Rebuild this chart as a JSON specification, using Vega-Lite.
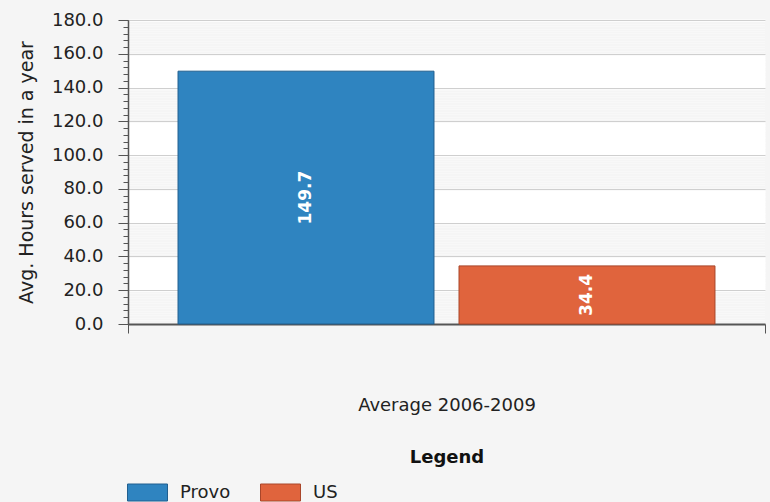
{
  "$schema": "https://vega.github.io/schema/vega-lite/v6.json",
  "width": 637,
  "height": 304,
  "autosize": {"type": "none"},
  "padding": {"left": 128, "top": 20, "right": 5, "bottom": 178},
  "background": "#f5f5f5",
  "config": {"view": {"fill": "#ffffff", "stroke": null}, "font": "DejaVu Sans"},
  "data": {"values": [
    {"period": "Average 2006-2009", "series": "Provo", "value": 149.7},
    {"period": "Average 2006-2009", "series": "US", "value": 34.4}
  ]},
  "encoding": {
    "x": {"field": "period", "type": "nominal", "scale": {"paddingInner": 0, "paddingOuter": 0},
      "axis": {"title": "Legend", "titleFontWeight": "bold", "titleFontSize": 18, "titleColor": "#111111",
        "labelFontSize": 18, "labelColor": "#222222", "labelAngle": 0, "labelPadding": 63,
        "tickSize": 9, "tickBand": "extent", "tickColor": "#555555", "domainColor": "#555555", "domainWidth": 2,
        "titlePadding": 34}},
    "xOffset": {"field": "series", "type": "nominal", "scale": {"paddingInner": 0.089, "paddingOuter": 0.178}}
  },
  "layer": [
    {
      "mark": {"type": "bar", "strokeWidth": 1},
      "encoding": {
        "y": {"field": "value", "type": "quantitative", "scale": {"domain": [0, 180]},
          "axis": {"orient": "left", "title": null, "labels": false, "domain": false,
            "values": [0,1,2,3,4,5,6,7,8,9,10,11,12,13,14,15,16,17,18,19,20,21,22,23,24,25,26,27,28,29,30,31,32,33,34,35,36,37,38,39,40,41,42,43,44,45,46,47,48,49,50,51,52,53,54,55,56,57,58,59,60,61,62,63,64,65,66,67,68,69,70,71,72,73,74,75,76,77,78,79,80,81,82,83,84,85,86,87,88,89,90,91,92,93,94,95,96,97,98,99,100,101,102,103,104,105,106,107,108,109,110,111,112,113,114,115,116,117,118,119,120,121,122,123,124,125,126,127,128,129,130,131,132,133,134,135,136,137,138,139,140,141,142,143,144,145,146,147,148,149,150,151,152,153,154,155,156,157,158,159,160,161,162,163,164,165,166,167,168,169,170,171,172,173,174,175,176,177,178,179,180],
            "tickSize": 5, "tickColor": "#555555",
            "tickOpacity": {"condition": {"test": "datum.value % 4 === 0", "value": 1}, "value": 0},
            "grid": true, "gridWidth": 1.8,
            "gridColor": {"condition": {"test": "floor(datum.value / 20) % 2 === 0 && datum.value < 180", "value": "#f5f5f5"}, "value": "#ffffff"}}},
        "color": {"field": "series", "type": "nominal", "scale": {"range": ["#2f84c0", "#e0643d"]},
          "legend": {"orient": "none", "legendX": -1, "legendY": 452, "direction": "horizontal", "title": null,
            "symbolType": "M-1,-0.425H1V0.425H-1Z", "symbolSize": 1600, "symbolStrokeWidth": 1, "symbolOpacity": 1,
            "labelFontSize": 18, "labelColor": "#222222", "labelOffset": 12, "columnPadding": 27}},
        "stroke": {"field": "series", "type": "nominal", "scale": {"range": ["#215f8f", "#a9462a"]}, "legend": null}
      }
    },
    {
      "mark": {"type": "text", "color": "#ffffff", "fontWeight": "bold", "fontSize": 17, "angle": 270, "align": "center", "baseline": "middle"},
      "encoding": {
        "y": {"field": "value", "type": "quantitative", "scale": {"domain": [0, 360]},
          "axis": {"orient": "left", "values": [0,40,80,120,160,200,240,280,320,360],
            "labelExpr": "format(datum.value / 2, '.1f')",
            "title": "Avg. Hours served in a year", "titleFontSize": 19, "titleFontWeight": "normal", "titleColor": "#222222",
            "titlePadding": 15, "labelFontSize": 18, "labelColor": "#222222",
            "labelPadding": 15, "tickSize": 10, "tickColor": "#555555", "domainColor": "#555555", "domainWidth": 1.5,
            "grid": true, "gridColor": "#cfcfcf", "gridWidth": 1.2}},
        "text": {"field": "value", "type": "quantitative", "format": ".1f"}
      }
    }
  ],
  "resolve": {"scale": {"y": "independent"}, "axis": {"y": "independent"}}
}
